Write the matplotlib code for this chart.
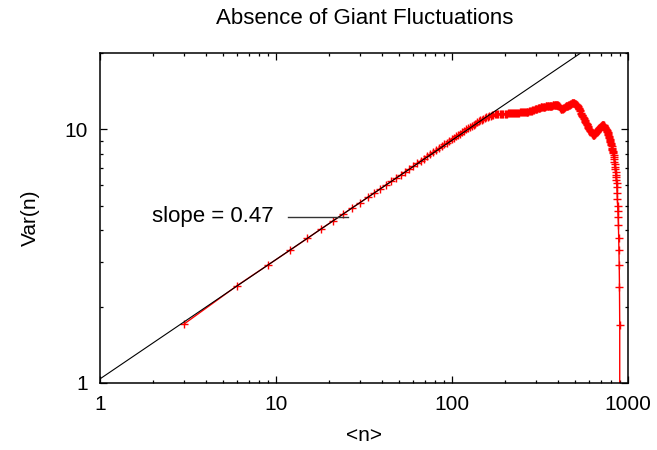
import numpy as np
import matplotlib
matplotlib.use("Agg")
import matplotlib.pyplot as plt
from matplotlib.ticker import FixedLocator, FixedFormatter, LogLocator, NullFormatter

plt.rcParams['font.family'] = ['Liberation Sans', 'DejaVu Sans']

# ---- data ----
title = "Absence of Giant Fluctuations"
xlabel = "<n>"
ylabel = "Var(n)"
x_step = 3  # mean occupation sampled every 3 particles
var_n = [
    1.71, 2.42, 2.92, 3.34, 3.71, 4.05, 4.35, 4.63, 4.90, 5.14,
    5.38, 5.60, 5.82, 6.03, 6.22, 6.42, 6.60, 6.78, 6.96, 7.13,
    7.33, 7.50, 7.66, 7.82, 7.98, 8.13, 8.27, 8.42, 8.56, 8.70,
    8.84, 8.97, 9.11, 9.23, 9.36, 9.49, 9.61, 9.73, 9.85, 9.97,
    10.08, 10.19, 10.30, 10.41, 10.52, 10.62, 10.72, 10.82, 10.90, 10.97,
    11.05, 11.12, 11.18, 11.24, 11.29, 11.34, 11.38, 11.42, 11.45, 11.47,
    11.48, 11.49, 11.50, 11.50, 11.49, 11.50, 11.51, 11.52, 11.53, 11.54,
    11.55, 11.56, 11.56, 11.57, 11.58, 11.59, 11.60, 11.61, 11.62, 11.62,
    11.63, 11.64, 11.65, 11.66, 11.67, 11.68, 11.69, 11.70, 11.71, 11.73,
    11.75, 11.78, 11.81, 11.84, 11.87, 11.90, 11.93, 11.96, 11.99, 12.02,
    12.05, 12.08, 12.10, 12.13, 12.15, 12.17, 12.19, 12.21, 12.23, 12.25,
    12.26, 12.27, 12.28, 12.30, 12.31, 12.32, 12.33, 12.34, 12.35, 12.36,
    12.36, 12.37, 12.38, 12.39, 12.39, 12.40, 12.40, 12.41, 12.41, 12.42,
    12.42, 12.42, 12.40, 12.35, 12.28, 12.20, 12.12, 12.05, 12.00, 11.99,
    12.02, 12.06, 12.10, 12.15, 12.20, 12.24, 12.28, 12.32, 12.35, 12.37,
    12.38, 12.40, 12.42, 12.45, 12.48, 12.52, 12.56, 12.60, 12.63, 12.65,
    12.66, 12.67, 12.66, 12.64, 12.61, 12.58, 12.55, 12.51, 12.48, 12.45,
    12.40, 12.33, 12.25, 12.15, 12.05, 11.95, 11.85, 11.75, 11.62, 11.50,
    11.40, 11.32, 11.28, 11.20, 11.12, 11.03, 10.94, 10.84, 10.74, 10.65,
    10.60, 10.56, 10.50, 10.43, 10.36, 10.28, 10.20, 10.12, 10.05, 9.98,
    9.94, 9.89, 9.84, 9.79, 9.74, 9.69, 9.64, 9.59, 9.55, 9.51,
    9.49, 9.48, 9.50, 9.53, 9.57, 9.61, 9.65, 9.69, 9.73, 9.78,
    9.82, 9.86, 9.90, 9.94, 9.98, 10.02, 10.06, 10.10, 10.14, 10.18,
    10.21, 10.24, 10.27, 10.30, 10.33, 10.36, 10.38, 10.40, 10.40, 10.38,
    10.35, 10.31, 10.27, 10.22, 10.17, 10.12, 10.07, 10.02, 9.98, 9.94,
    9.90, 9.84, 9.77, 9.70, 9.62, 9.54, 9.46, 9.38, 9.32, 9.25,
    9.18, 9.09, 9.00, 8.91, 8.82, 8.73, 8.64, 8.55, 8.46, 8.37,
    8.28, 8.19, 8.11, 8.03, 7.90, 7.75, 7.60, 7.45, 7.30, 7.12,
    6.95, 6.80, 6.62, 6.46, 6.30, 6.13, 5.90, 5.60, 5.30, 5.00,
    4.75, 4.50, 4.20, 3.73, 3.35, 2.92, 2.39, 1.69, 0.0,
]
mean_n = np.arange(1, len(var_n) + 1) * x_step

fit_slope = 0.47
fit_prefactor = 1.04
fit_range = [1, 1000]
slope_label = "slope = 0.47"
label_anchor = [9.6, 4.51]
arrow_x = [11.65, 25.6]
arrow_y = [4.51, 4.51]

x_ticks = [1, 10, 100, 1000]
x_ticklabels = ["1", "10", "100", "1000"]
y_ticks = [1, 10]
y_ticklabels = ["1", "10"]

# ---- figure ----
fig = plt.figure(figsize=(6.57, 4.5), dpi=100)
ax = fig.add_axes([100.3 / 657, 1 - 383 / 450, (628.3 - 100.3) / 657, (383 - 52.7) / 450])

ax.set_xscale('log', nonpositive='clip')
ax.set_yscale('log', nonpositive='clip')

ax.plot(mean_n, var_n, color='#ff0000', linewidth=1.0, marker='+',
        markersize=6, markeredgewidth=1.0, zorder=2, clip_on=True)

fit_x = np.array(fit_range, dtype=float)
fit_y = fit_prefactor * fit_x ** fit_slope
ax.plot(fit_x, fit_y, color='black', linewidth=0.8, zorder=3)

ax.plot(arrow_x, arrow_y, color='#333333', linewidth=1.0, zorder=3)
ax.text(label_anchor[0], label_anchor[1], slope_label, ha='right', va='center',
        fontsize=16)

ax.set_xlim(1, 1000)
ax.set_ylim(1, 20)

ax.xaxis.set_major_locator(FixedLocator(x_ticks))
ax.xaxis.set_major_formatter(FixedFormatter(x_ticklabels))
ax.yaxis.set_major_locator(FixedLocator(y_ticks))
ax.yaxis.set_major_formatter(FixedFormatter(y_ticklabels))
ax.xaxis.set_minor_locator(LogLocator(base=10, subs=np.arange(2, 10), numticks=20))
ax.yaxis.set_minor_locator(LogLocator(base=10, subs=np.arange(2, 10), numticks=20))
ax.xaxis.set_minor_formatter(NullFormatter())
ax.yaxis.set_minor_formatter(NullFormatter())

ax.tick_params(which='both', direction='in', top=True, right=True, width=0.9,
               colors='black', labelsize=15)
ax.tick_params(which='major', length=5)
ax.tick_params(which='minor', length=2.5)
ax.tick_params(axis='x', which='major', pad=9)
ax.tick_params(axis='y', which='major', pad=9)

for s in ax.spines.values():
    s.set_linewidth(1.1)

ax.set_xlabel(xlabel, fontsize=15, labelpad=8)
ax.set_ylabel(ylabel, fontsize=15, labelpad=18)
fig.text(0.5 * (100.3 + 628.3) / 657, 1 - 18 / 450, title, ha='center', va='center', fontsize=16)

fig.savefig("out.png", dpi=100)
